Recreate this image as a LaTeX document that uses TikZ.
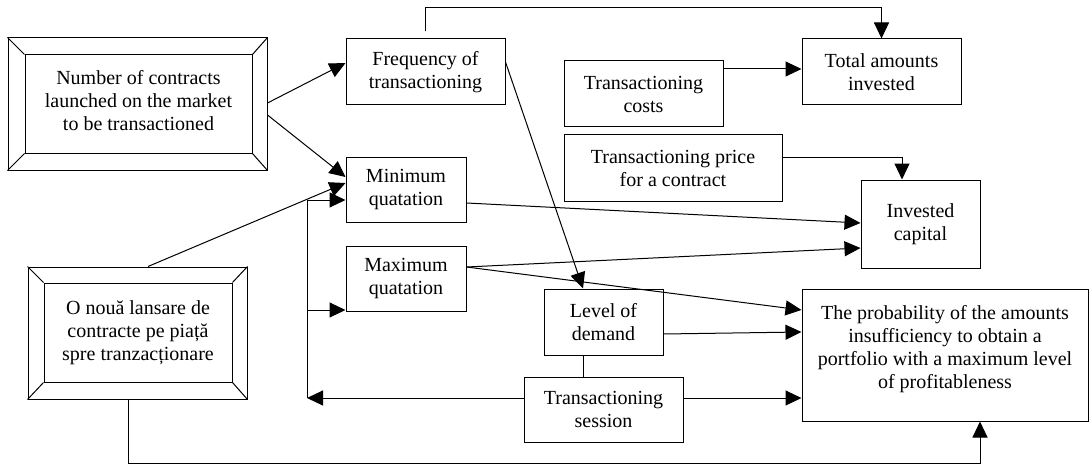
\documentclass[tikz,border=0pt]{standalone}
\usepackage{fontspec}
\setmainfont{Liberation Serif}
\usetikzlibrary{arrows.meta,calc}
\begin{document}
\begin{tikzpicture}[x=1pt,y=-1pt,
  box/.style={draw, line width=1pt, align=center, inner sep=0pt,
    font=\fontsize{20}{23}\selectfont},
  frame/.style={draw, line width=1pt, inner sep=0pt},
  conn/.style={line width=1pt},
  arr/.style={conn, -{Triangle[length=16pt,width=15pt]}}]
\useasboundingbox (0,0) rectangle (1089,468);

% bevelled boxes
\node[frame, minimum width=259pt, minimum height=132pt] (b1out) at (137.5,104) {};
\node[box, minimum width=227pt, minimum height=98pt] (b1in) at (138.5,104)
  {Number of contracts\\launched on the market\\to be transactioned\\[-15pt]};
\foreach \c in {north west,north east,south west,south east}
  \draw[conn] (b1out.\c) -- (b1in.\c);

\node[frame, minimum width=219pt, minimum height=132pt] (b2out) at (137.5,333) {};
\node[box, minimum width=188pt, minimum height=99pt] (b2in) at (138,332.5)
  {O nouă lansare de\\contracte pe piață\\spre tranzacționare};
\foreach \c in {north west,north east,south west,south east}
  \draw[conn] (b2out.\c) -- (b2in.\c);

% plain boxes
\node[box, minimum width=159pt, minimum height=66pt] (freq) at (425.5,72) {Frequency of\\transactioning};
\node[box, minimum width=159pt, minimum height=66pt] (cost) at (643.5,94) {Transactioning\\costs};
\node[box, minimum width=159pt, minimum height=66pt] (total) at (881.5,72) {Total amounts\\invested};
\node[box, minimum width=218pt, minimum height=66pt] (price) at (673,168) {Transactioning price\\for a contract};
\node[box, minimum width=119pt, minimum height=88pt] (invest) at (920.5,224) {Invested\\capital};
\node[box, minimum width=120pt, minimum height=65pt] (minq) at (406,189.5) {Minimum\\quatation};
\node[box, minimum width=120pt, minimum height=65pt] (maxq) at (406,278.5) {Maximum\\quatation};
\node[box, minimum width=119pt, minimum height=66pt] (level) at (603.5,322) {Level of\\demand};
\node[box, minimum width=159pt, minimum height=65pt] (sess) at (603.5,409.5) {Transactioning\\session};
\node[box, minimum width=286pt, minimum height=132pt] (prob) at (945,355)
  {The probability of the amounts\\insufficiency to obtain a\\portfolio with a maximum level\\of profitableness\\[-7pt]};

% connectors
\draw[arr] ([yshift=1pt]b1out.east) -- ([yshift=9pt]freq.west);
\draw[arr] ([yshift=-11pt]b1out.east) -- ([yshift=12.5pt]minq.west);
\draw[arr] ([xshift=10.5pt]b2out.north) -- ([yshift=6.5pt]minq.west);
\draw[arr] ([yshift=7pt]freq.north) -- ++(0,-24) -| (total.north);
\draw[arr] ([yshift=25pt]cost.east) -- ([yshift=3pt]total.west);
\draw[arr] ([yshift=11pt]price.east) -| ([xshift=-18.5pt]invest.north);
\draw[arr] ([yshift=-13.5pt]minq.east) -- ([yshift=1pt]invest.west);
\draw[arr] ([yshift=11.5pt]maxq.east) -- ([yshift=-24pt]invest.west);
\draw[arr] ([yshift=11.5pt]maxq.east) -- ([yshift=45pt]prob.west);
\draw[arr] ([yshift=10pt]freq.east) -- ([xshift=-20.5pt]level.north);
\draw[arr] ([yshift=-12pt]level.east) -- ([yshift=23pt]prob.west);
\draw[conn] ([xshift=-20.5pt]level.south) -- ([xshift=-20.5pt]sess.north);
\draw[arr] ([yshift=11.5pt]sess.east) -- ([yshift=-43pt]prob.west);

\coordinate (lft) at (307,398);
\coordinate (lfttop) at (307,200);
\coordinate (mqin) at ([yshift=-31.5pt]maxq.west);
\draw[arr] ([yshift=11.5pt]sess.west) -- (lft);
\draw[conn] (lft) -- (lfttop);
\draw[arr] (lfttop) -- ([yshift=-10.5pt]minq.west);
\draw[arr] (lft |- mqin) -- (mqin);

\draw[arr] ([xshift=-9.5pt]b2out.south) -- ++(0,64) -| ([xshift=35pt]prob.south);
\end{tikzpicture}
\end{document}
